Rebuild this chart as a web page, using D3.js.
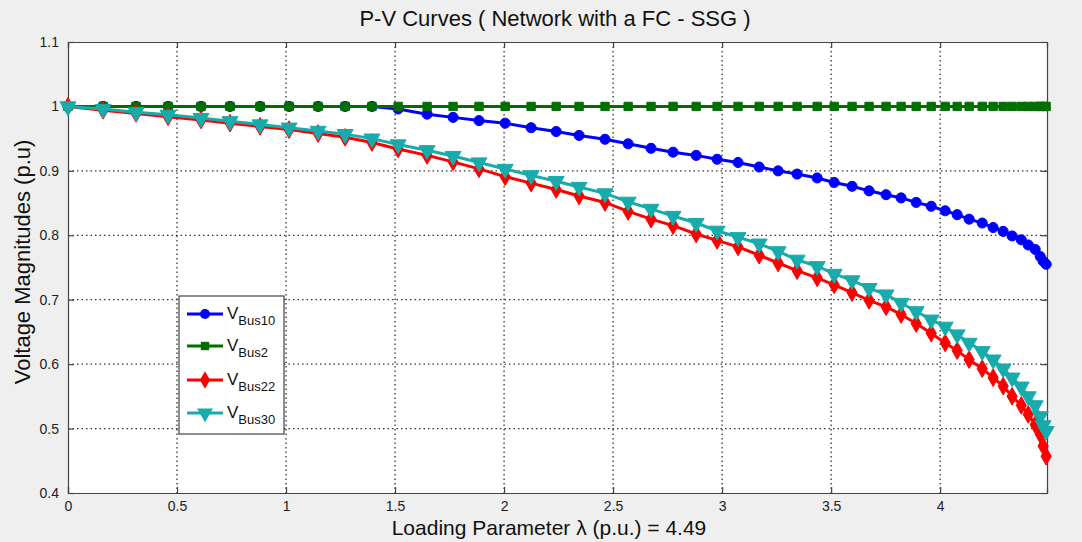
<!DOCTYPE html>
<html>

<head>
    <meta charset="utf-8">
    <title>P-V Curves</title>
    <script type="text/javascript" src="https://cdn.jsdelivr.net/npm/d3@7"></script>
</head>

<body>

    <style>
        body {
            margin: 0;
            background: #efefef;
        }

        svg {
            display: block;
        }

        text {
            font-family: "Liberation Sans", Arial, sans-serif;
        }
    </style>

    <svg></svg>

</body>

<script type="text/javascript">
    // loading parameter lambda at each continuation step
    var lambda = [0, 0.161, 0.312, 0.459, 0.610, 0.743, 0.881, 1.014, 1.147, 1.271,
        1.394, 1.514, 1.647, 1.766, 1.885, 2.005, 2.124, 2.239, 2.344, 2.463,
        2.569, 2.674, 2.775, 2.881, 2.977, 3.073, 3.170, 3.257, 3.344, 3.436,
        3.514, 3.596, 3.674, 3.752, 3.821, 3.890, 3.959, 4.023, 4.078, 4.133,
        4.193, 4.243, 4.289, 4.330, 4.372, 4.404, 4.436, 4.459, 4.472, 4.486];

    var vBus10 = [1.0, 1.0, 1.0, 1.0, 1.0, 1.0, 1.0, 1.0, 1.0, 1.0,
        1.0, 0.996, 0.988, 0.983, 0.978, 0.974, 0.967, 0.961, 0.955, 0.949,
        0.942, 0.935, 0.929, 0.924, 0.918, 0.913, 0.906, 0.900, 0.895, 0.889,
        0.882, 0.876, 0.869, 0.863, 0.858, 0.851, 0.845, 0.838, 0.832, 0.825,
        0.819, 0.812, 0.806, 0.799, 0.793, 0.785, 0.778, 0.767, 0.760, 0.755];

    var vBus2 = [1.0, 1.0, 1.0, 1.0, 1.0, 1.0, 1.0, 1.0, 1.0, 1.0,
        1.0, 1.0, 1.0, 1.0, 1.0, 1.0, 1.0, 1.0, 1.0, 1.0,
        1.0, 1.0, 1.0, 1.0, 1.0, 1.0, 1.0, 1.0, 1.0, 1.0,
        1.0, 1.0, 1.0, 1.0, 1.0, 1.0, 1.0, 1.0, 1.0, 1.0,
        1.0, 1.0, 1.0, 1.0, 1.0, 1.0, 1.0, 1.0, 1.0, 1.0];

    var vBus22 = [1.0, 0.994, 0.989, 0.984, 0.979, 0.974, 0.969, 0.964, 0.958, 0.952,
        0.944, 0.934, 0.924, 0.914, 0.903, 0.891, 0.881, 0.871, 0.861, 0.851,
        0.837, 0.825, 0.815, 0.802, 0.792, 0.782, 0.769, 0.757, 0.745, 0.734,
        0.723, 0.711, 0.699, 0.689, 0.677, 0.663, 0.648, 0.633, 0.621, 0.607,
        0.593, 0.579, 0.566, 0.550, 0.536, 0.522, 0.506, 0.491, 0.473, 0.457];

    var vBus30 = [1.0, 0.996, 0.991, 0.987, 0.982, 0.977, 0.972, 0.967, 0.962, 0.957,
        0.950, 0.941, 0.932, 0.923, 0.913, 0.903, 0.893, 0.884, 0.875, 0.865,
        0.852, 0.841, 0.830, 0.819, 0.807, 0.797, 0.787, 0.775, 0.762, 0.752,
        0.740, 0.730, 0.718, 0.708, 0.695, 0.682, 0.669, 0.658, 0.646, 0.633,
        0.620, 0.607, 0.593, 0.579, 0.565, 0.550, 0.536, 0.519, 0.505, 0.496];

    var xTicks = [0, 0.5, 1, 1.5, 2, 2.5, 3, 3.5, 4];
    var yTicks = [0.4, 0.5, 0.6, 0.7, 0.8, 0.9, 1, 1.1];

    var seriesNames = ["Bus10", "Bus2", "Bus22", "Bus30"];
    var seriesValues = [vBus10, vBus2, vBus22, vBus30];
    var seriesColors = ["#0000ff", "#006f00", "#ff0000", "#17abab"];
    var seriesMarkers = [d3.symbolCircle, d3.symbolSquare, d3.symbolDiamond, d3.symbolTriangle];
    var markerSizes = [80, 70, 90, 110];

    // size of the page and of the plot box
    var w = 1082;
    var h = 542;
    var mLeft = 68,
        mRight = 1047,
        mTop = 42,
        mBottom = 493;

    var svg = d3.select("svg")
        .attr("width", w)
        .attr("height", h);

    var xScale = d3.scaleLinear().domain([0, 4.49]).range([mLeft, mRight]);
    var yScale = d3.scaleLinear().domain([0.4, 1.1]).range([mBottom, mTop]);

    // white plot area
    svg.append("rect")
        .attr("x", mLeft)
        .attr("y", mTop)
        .attr("width", mRight - mLeft)
        .attr("height", mBottom - mTop)
        .attr("fill", "white");

    // dotted grid
    svg.append("g").selectAll("line")
        .data(xTicks.slice(1))
        .enter()
        .append("line")
        .attr("x1", function(d) { return xScale(d); })
        .attr("x2", function(d) { return xScale(d); })
        .attr("y1", mTop)
        .attr("y2", mBottom)
        .attr("stroke", "#333")
        .attr("stroke-width", 1.3)
        .attr("stroke-dasharray", "1.5,3");

    svg.append("g").selectAll("line")
        .data(yTicks.slice(1, -1))
        .enter()
        .append("line")
        .attr("x1", mLeft)
        .attr("x2", mRight)
        .attr("y1", function(d) { return yScale(d); })
        .attr("y2", function(d) { return yScale(d); })
        .attr("stroke", "#333")
        .attr("stroke-width", 1.3)
        .attr("stroke-dasharray", "1.5,3");

    // axes, ticks point inward like matlab
    var xAxis = d3.axisBottom(xScale)
        .tickValues(xTicks)
        .tickSize(-6)
        .tickPadding(8)
        .tickFormat(function(d) { return d; });

    var yAxis = d3.axisLeft(yScale)
        .tickValues(yTicks)
        .tickSize(-6)
        .tickPadding(9)
        .tickFormat(function(d) { return d; });

    svg.append("g")
        .attr("transform", "translate(0," + mBottom + ")")
        .call(xAxis)
        .call(styleAxis);

    svg.append("g")
        .attr("transform", "translate(" + mLeft + ",0)")
        .call(yAxis)
        .call(styleAxis);

    // ticks on the opposite sides
    svg.append("g")
        .attr("transform", "translate(0," + mTop + ")")
        .call(d3.axisTop(xScale).tickValues(xTicks).tickSize(-6).tickFormat(""))
        .call(styleAxis);

    svg.append("g")
        .attr("transform", "translate(" + mRight + ",0)")
        .call(d3.axisRight(yScale).tickValues(yTicks).tickSize(-6).tickFormat(""))
        .call(styleAxis);

    function styleAxis(g) {
        g.select(".domain").attr("stroke", "#444").attr("stroke-width", 1.2);
        g.selectAll(".tick line").attr("stroke", "#444").attr("stroke-width", 1.2);
        g.selectAll(".tick text")
            .attr("fill", "#222")
            .style("font-size", "14px")
            .style("font-family", '"Liberation Sans", Arial, sans-serif');
    }

    // curves with markers
    var line = d3.line()
        .x(function(d, i) { return xScale(lambda[i]); })
        .y(function(d) { return yScale(d); });

    for (var s = 0; s < seriesValues.length; s++) {
        var grp = svg.append("g");
        grp.append("path")
            .datum(seriesValues[s])
            .attr("d", line)
            .attr("fill", "none")
            .attr("stroke", seriesColors[s])
            .attr("stroke-width", 3);

        var sym = d3.symbol().type(seriesMarkers[s]).size(markerSizes[s]);
        grp.selectAll("path.mk")
            .data(seriesValues[s])
            .enter()
            .append("path")
            .attr("class", "mk")
            .attr("d", sym)
            .attr("transform", function(d, i) {
                var rot = (s == 3) ? " rotate(180)" : "";
                return "translate(" + xScale(lambda[i]) + "," + yScale(d) + ")" + rot;
            })
            .attr("fill", seriesColors[s])
            .attr("stroke", seriesColors[s])
            .attr("stroke-width", 1);
    }

    // legend
    var legend = svg.append("g").attr("transform", "translate(179,296)");
    legend.append("rect")
        .attr("width", 105)
        .attr("height", 138)
        .attr("fill", "white")
        .attr("stroke", "#444")
        .attr("stroke-width", 1.2);

    var rowsY = [18, 50, 84, 117];
    for (var k = 0; k < seriesNames.length; k++) {
        var row = legend.append("g").attr("transform", "translate(0," + rowsY[k] + ")");
        row.append("line")
            .attr("x1", 8)
            .attr("x2", 44)
            .attr("stroke", seriesColors[k])
            .attr("stroke-width", 3);
        row.append("path")
            .attr("d", d3.symbol().type(seriesMarkers[k]).size(markerSizes[k]))
            .attr("transform", "translate(26,0)" + (k == 3 ? " rotate(180)" : ""))
            .attr("fill", seriesColors[k]);
        var t = row.append("text")
            .attr("x", 48)
            .attr("y", 5)
            .attr("fill", "#111")
            .style("font-size", "17px")
            .text("V");
        t.append("tspan")
            .attr("dy", 6)
            .style("font-size", "13px")
            .text(seriesNames[k]);
    }

    // title and axis labels
    svg.append("text")
        .attr("x", 555)
        .attr("y", 26)
        .attr("text-anchor", "middle")
        .attr("fill", "#111")
        .style("font-size", "22px")
        .text("P-V Curves ( Network with a FC - SSG )");

    svg.append("text")
        .attr("x", 549)
        .attr("y", 535)
        .attr("text-anchor", "middle")
        .attr("fill", "#111")
        .style("font-size", "21px")
        .text("Loading Parameter \u03bb (p.u.) = 4.49");

    svg.append("text")
        .attr("transform", "translate(30,262) rotate(-90)")
        .attr("text-anchor", "middle")
        .attr("fill", "#111")
        .style("font-size", "22px")
        .text("Voltage Magnitudes (p.u)");
</script>

</html>
